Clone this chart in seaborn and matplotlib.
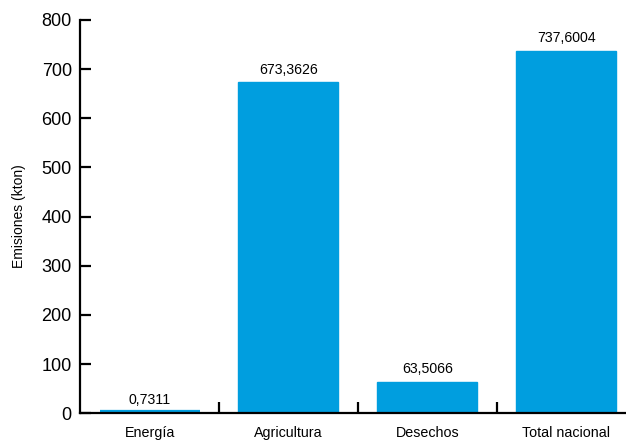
import matplotlib
matplotlib.use("Agg")
import matplotlib.pyplot as plt
import seaborn as sns
import pandas as pd
from matplotlib.ticker import FixedLocator

categories = ["Energía", "Agricultura", "Desechos", "Total nacional"]
values = [0.7311, 673.3626, 63.5066, 737.6004]
yticks = [0, 100, 200, 300, 400, 500, 600, 700, 800]

sns.set_theme(style="white")
plt.rcParams['font.family'] = ['Liberation Sans', 'DejaVu Sans']
plt.rcParams['text.color'] = 'black'
plt.rcParams['axes.labelcolor'] = 'black'
plt.rcParams['xtick.color'] = 'black'
plt.rcParams['ytick.color'] = 'black'

df = pd.DataFrame({"cat": categories, "val": values})

fig = plt.figure(figsize=(6.26, 4.42), dpi=100)
ax = fig.add_axes([0.128, 0.065, 0.872, 0.89])
color = "#009EDF"
sns.barplot(data=df, x="cat", y="val", color=color, saturation=1, width=0.72,
            edgecolor=color, linewidth=1.0, ax=ax)
# make the tiny first bar visible as in the reference
ax.patches[0].set_linewidth(4.5)

ax.set_ylim(0, 800)
ax.set_xlim(-0.5, 3.43)
ax.set_yticks(yticks)
ax.set_yticklabels([str(t) for t in yticks], fontsize=13)
ax.set_xlabel("")
ax.set_ylabel("Emisiones (kton)", fontsize=10, labelpad=11)

for s in ["top", "right"]:
    ax.spines[s].set_visible(False)
for s in ["left", "bottom"]:
    ax.spines[s].set_linewidth(1.6)
    ax.spines[s].set_color("black")
    ax.spines[s].set_zorder(5)

ax.tick_params(axis="y", left=True, direction="in", length=8, width=1.6, colors="black", pad=6)
ax.tick_params(axis="x", which="major", bottom=False, length=0, labelsize=10.3, pad=9, colors="black")
ax.xaxis.set_minor_locator(FixedLocator([0.5, 1.5, 2.5]))
ax.tick_params(axis="x", which="minor", bottom=True, direction="in", length=8, width=1.6, color="black")

labels = [f"{v:.4f}".replace(".", ",") for v in values]
ax.bar_label(ax.containers[0], labels=labels, fontsize=10.2, padding=4, color="black")

fig.savefig("out.png", dpi=100)
